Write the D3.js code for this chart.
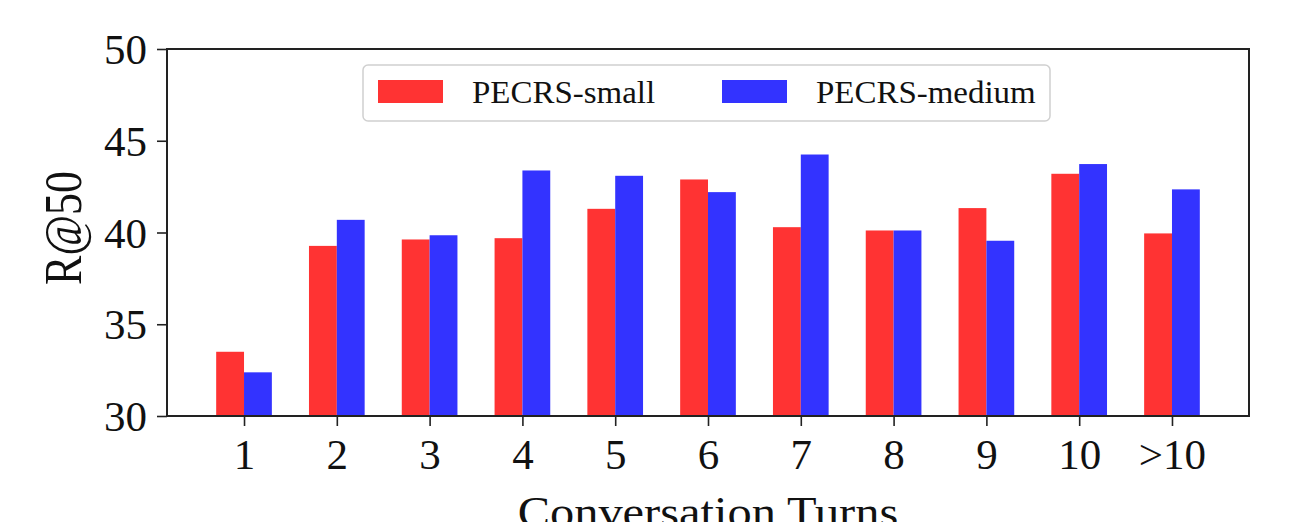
<!DOCTYPE html>
<html>
<head>
<meta charset="utf-8">
<script src="https://cdn.jsdelivr.net/npm/d3@7"></script>
<style>
  body { margin: 0; background: #fff; }
  svg { display: block; }
  text { font-family: "Liberation Serif", "Times New Roman", serif; fill: #111; }
</style>
</head>
<body>
<svg id="chart" width="1296" height="522"></svg>
<script>
// values
var turns = ["1", "2", "3", "4", "5", "6", "7", "8", "9", "10", ">10"];
var smallVals = [33.5, 39.27, 39.62, 39.69, 41.29, 42.89, 40.29, 40.11, 41.33, 43.2, 39.95];
var mediumVals = [32.38, 40.69, 39.85, 43.38, 43.09, 42.2, 44.25, 40.11, 39.55, 43.73, 42.35];
var yTicks = [30, 35, 40, 45, 50];
var seriesNames = ["PECRS-small", "PECRS-medium"];
var seriesColors = ["#ff3333", "#3333ff"];

// plot box (note: "top" is taken by window.top)
var plotL = 167, plotR = 1249, plotT = 49, plotB = 416;
var barW = 0.3;

var svg = d3.select("#chart");

var x = d3.scaleLinear().domain([-0.83, 10.83]).range([plotL, plotR]);
var y = d3.scaleLinear().domain([30, 50]).range([plotB, plotT]);

// bars
var series = [smallVals, mediumVals];
series.forEach(function (vals, s) {
	svg.append("g").selectAll("rect")
		.data(vals)
		.enter().append("rect")
		.attr("x", function (d, i) { return x(i + (s - 1) * barW); })
		.attr("width", x(barW) - x(0))
		.attr("y", function (d) { return y(d); })
		.attr("height", function (d) { return y(30) - y(d); })
		.attr("fill", seriesColors[s]);
});

// axes
var xAxis = d3.axisBottom(x)
	.tickValues(d3.range(turns.length))
	.tickFormat(function (d) { return turns[d]; })
	.tickSize(10).tickPadding(12).tickSizeOuter(0);
var gx = svg.append("g").attr("transform", "translate(0," + plotB + ")").call(xAxis);

var yAxis = d3.axisLeft(y)
	.tickValues(yTicks)
	.tickSize(10).tickPadding(10).tickSizeOuter(0);
var gy = svg.append("g").attr("transform", "translate(" + plotL + ",0)").call(yAxis);

[gx, gy].forEach(function (g) {
	g.select(".domain").remove();
	g.selectAll(".tick line").attr("stroke", "#222").attr("stroke-width", 1.6);
	g.selectAll(".tick text")
		.style("font-size", "43px")
		.style("font-family", "'Liberation Serif', serif")
		.attr("fill", "#111");
});
gy.selectAll(".tick text").attr("dy", "0.34em");

// frame
svg.append("rect")
	.attr("x", plotL).attr("y", plotT)
	.attr("width", plotR - plotL).attr("height", plotB - plotT)
	.attr("fill", "none").attr("stroke", "#222").attr("stroke-width", 2);

// axis titles (the source picture is a bit stretched sideways)
svg.append("text")
	.attr("transform", "translate(81,228) scale(1.2,1) rotate(-90)")
	.attr("text-anchor", "middle")
	.style("font-size", "44px")
	.text("R@50");

svg.append("text")
	.attr("transform", "translate(" + ((plotL + plotR) / 2) + ",527) scale(1.1,1)")
	.attr("text-anchor", "middle")
	.style("font-size", "44px")
	.text("Conversation Turns");

// legend
var legend = svg.append("g");
legend.append("rect")
	.attr("x", 363).attr("y", 65)
	.attr("width", 687).attr("height", 56)
	.attr("rx", 5)
	.attr("fill", "#fff").attr("fill-opacity", 0.8)
	.attr("stroke", "#d0d0d0").attr("stroke-width", 1.5);

var legX = [378, 722];
seriesNames.forEach(function (name, i) {
	legend.append("rect")
		.attr("x", legX[i]).attr("y", 80)
		.attr("width", 65).attr("height", 23)
		.attr("fill", seriesColors[i]);
	legend.append("text")
		.attr("transform", "translate(" + (legX[i] + 94) + ",103) scale(1.03,1)")
		.style("font-size", "32px")
		.text(name);
});
</script>
</body>
</html>
